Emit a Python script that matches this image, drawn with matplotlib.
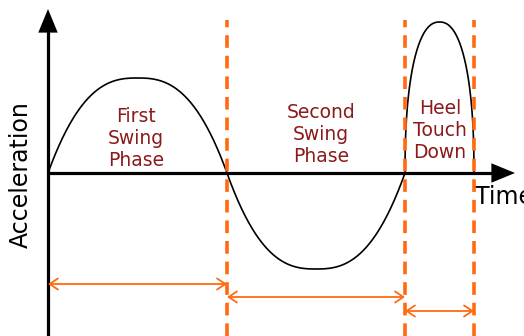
import numpy as np
import matplotlib
matplotlib.use('Agg')
from matplotlib import pyplot as plt

# phase boundaries along the time axis and peak acceleration in each phase
phase_bounds = [0., 179., 357., 426.]
phase_peaks = [95., -96., 151.]
# arch shape of each half wave: (exponent, rounded top like an ellipse?)
phase_shapes = [(2.6, False), (2.6, False), (2.3, True)]
phase_names = ['First\nSwing\nPhase', 'Second\nSwing\nPhase', 'Heel\nTouch\nDown']
label_pos = [(88., 34.), (273., 39.), (392., 42.)]
span_levels = [-111., -124., -138.]

orange = '#ff6a10'
darkred = '#8b1a1a'

fig = plt.figure(figsize=(5.24, 3.36), dpi=100)
ax = fig.add_axes([0, 0, 1, 1])
ax.set_xlim(-48, 476)
ax.set_ylim(-163, 173)
ax.axis('off')

# the signal: one arch per phase
for i in range(len(phase_peaks)):
    t = np.linspace(phase_bounds[i], phase_bounds[i+1], 300)
    w = np.abs(2 * (t - t[0]) / (t[-1] - t[0]) - 1)
    p, rounded = phase_shapes[i]
    if rounded:
        h = np.clip(1 - w**p, 0, 1)**(1. / p)
    else:
        h = 1 - w**p
    ax.plot(t, phase_peaks[i] * h, color='black', lw=1.2, zorder=3)

# axes with arrow heads
ax.plot([0, 0], [-163, 145], color='black', lw=2.3, solid_capstyle='butt')
ax.plot([0, 445], [0, 0], color='black', lw=2.3, solid_capstyle='butt')
head = dict(arrowstyle='-|>,head_length=0.85,head_width=0.35', color='black',
            lw=0, mutation_scale=20, shrinkA=0, shrinkB=0)
ax.annotate('', xy=(0, 164), xytext=(0, 140), arrowprops=head)
ax.annotate('', xy=(467, 0), xytext=(440, 0), arrowprops=head)

# phase boundaries
for b in phase_bounds[1:]:
    ax.plot([b, b], [-163, 153], color=orange, lw=2.6, ls=(0, (3.5, 2.2)), zorder=4)

# phase spans
for i, lev in enumerate(span_levels):
    ax.annotate('', xy=(phase_bounds[i], lev), xytext=(phase_bounds[i+1], lev),
                arrowprops=dict(arrowstyle='<->,head_length=0.6,head_width=0.4',
                                color=orange, lw=1.3, mutation_scale=10,
                                shrinkA=0, shrinkB=0))

for name, (x, y) in zip(phase_names, label_pos):
    ax.text(x, y, name, color=darkred, fontsize=13.5, ha='center', va='center',
            linespacing=1.2)

ax.text(-27, -2, 'Acceleration', fontsize=17, rotation=90, ha='center', va='center')
ax.text(427, -24, 'Time', fontsize=17, ha='left', va='center')

fig.savefig('out.png', dpi=100)
